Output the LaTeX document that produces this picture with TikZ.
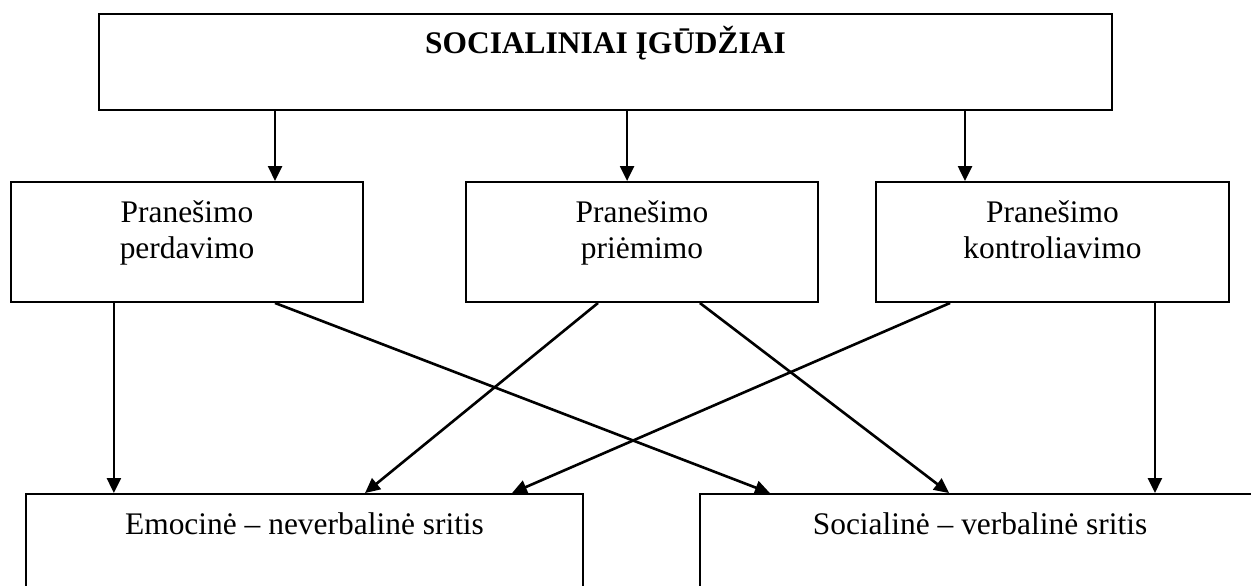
\documentclass[tikz,border=0pt]{standalone}
\usepackage{fontspec}
\setmainfont{Liberation Serif}
\usetikzlibrary{arrows.meta,positioning}
\tikzset{box/.style={draw, line width=0.75pt, rectangle, inner sep=0pt},
    lbl/.style={inner sep=0pt, align=center, font=\fontsize{12pt}{14.1pt}\selectfont},
    arr/.style={-{Triangle[length=5.7pt,width=5.3pt]}, line width=1pt}}

\begin{document}
\begin{tikzpicture}[x=0.3817pt, y=-0.3817pt]
    \useasboundingbox (0,0) rectangle (1251,585);
    \clip (0,0) rectangle (1251,585);
    % boxes
    \node[box, minimum width=386.7pt, minimum height=36.6pt] (top) at (605.5,62) {};
    \node[box, minimum width=134.4pt, minimum height=45.8pt] (per) at (187,242) {};
    \node[box, minimum width=134.4pt, minimum height=45.8pt] (pri) at (642,242) {};
    \node[box, minimum width=134.7pt, minimum height=45.8pt] (kon) at (1052.5,242) {};
    \node[box, minimum width=212.6pt, minimum height=49.6pt] (emo) at (304.5,559) {};
    \node[box, minimum width=213.8pt, minimum height=49.6pt] (soc) at (980,559) {};
    % texts
    \node[lbl, font=\fontsize{12pt}{14.1pt}\selectfont\bfseries, anchor=base] (topT) at ([yshift=-15.6pt]top.north) {SOCIALINIAI ĮGŪDŽIAI};
    \node[lbl, below=7.1pt of per.north] (perT) {Pranešimo\\perdavimo};
    \node[lbl, below=7.1pt of pri.north] (priT) {Pranešimo\\priėmimo};
    \node[lbl, below=7.1pt of kon.north] (konT) {Pranešimo\\kontroliavimo};
    \node[lbl, anchor=base] (emoT) at ([yshift=-16pt]emo.north) {Emocinė -- neverbalinė sritis};
    \node[lbl, anchor=base] (socT) at ([yshift=-16pt]soc.north) {Socialinė -- verbalinė sritis};
    % arrows from the top box
    \foreach \b/\dx in {per/33.6pt, pri/-5.7pt, kon/-33.4pt}{
      \coordinate (\b-in) at ([xshift=\dx]\b.north);
      \draw[arr] (top.south -| \b-in) -- (\b-in);
    }
    % exits and entries
    \coordinate (per-a) at ([xshift=-27.9pt]per.south);
    \coordinate (per-b) at ([xshift=33.6pt]per.south);
    \coordinate (pri-a) at ([xshift=-16.8pt]pri.south);
    \coordinate (pri-b) at ([xshift=22.1pt]pri.south);
    \coordinate (kon-a) at ([xshift=-39.1pt]kon.south);
    \coordinate (kon-b) at ([xshift=39.1pt]kon.south);
    \coordinate (emo-b) at ([xshift=23.1pt]emo.north);
    \coordinate (emo-c) at ([xshift=79.2pt]emo.north);
    \coordinate (soc-a) at ([xshift=-80.2pt]soc.north);
    \coordinate (soc-b) at ([xshift=-11.8pt]soc.north);
    \draw[arr] (per-a) -- (per-a |- emo.north);
    \draw[arr] (kon-b) -- (kon-b |- soc.north);
    \foreach \s/\t in {per-b/soc-a, pri-a/emo-b, pri-b/soc-b, kon-a/emo-c}
      \draw[arr] (\s) -- (\t);
\end{tikzpicture}
\end{document}
